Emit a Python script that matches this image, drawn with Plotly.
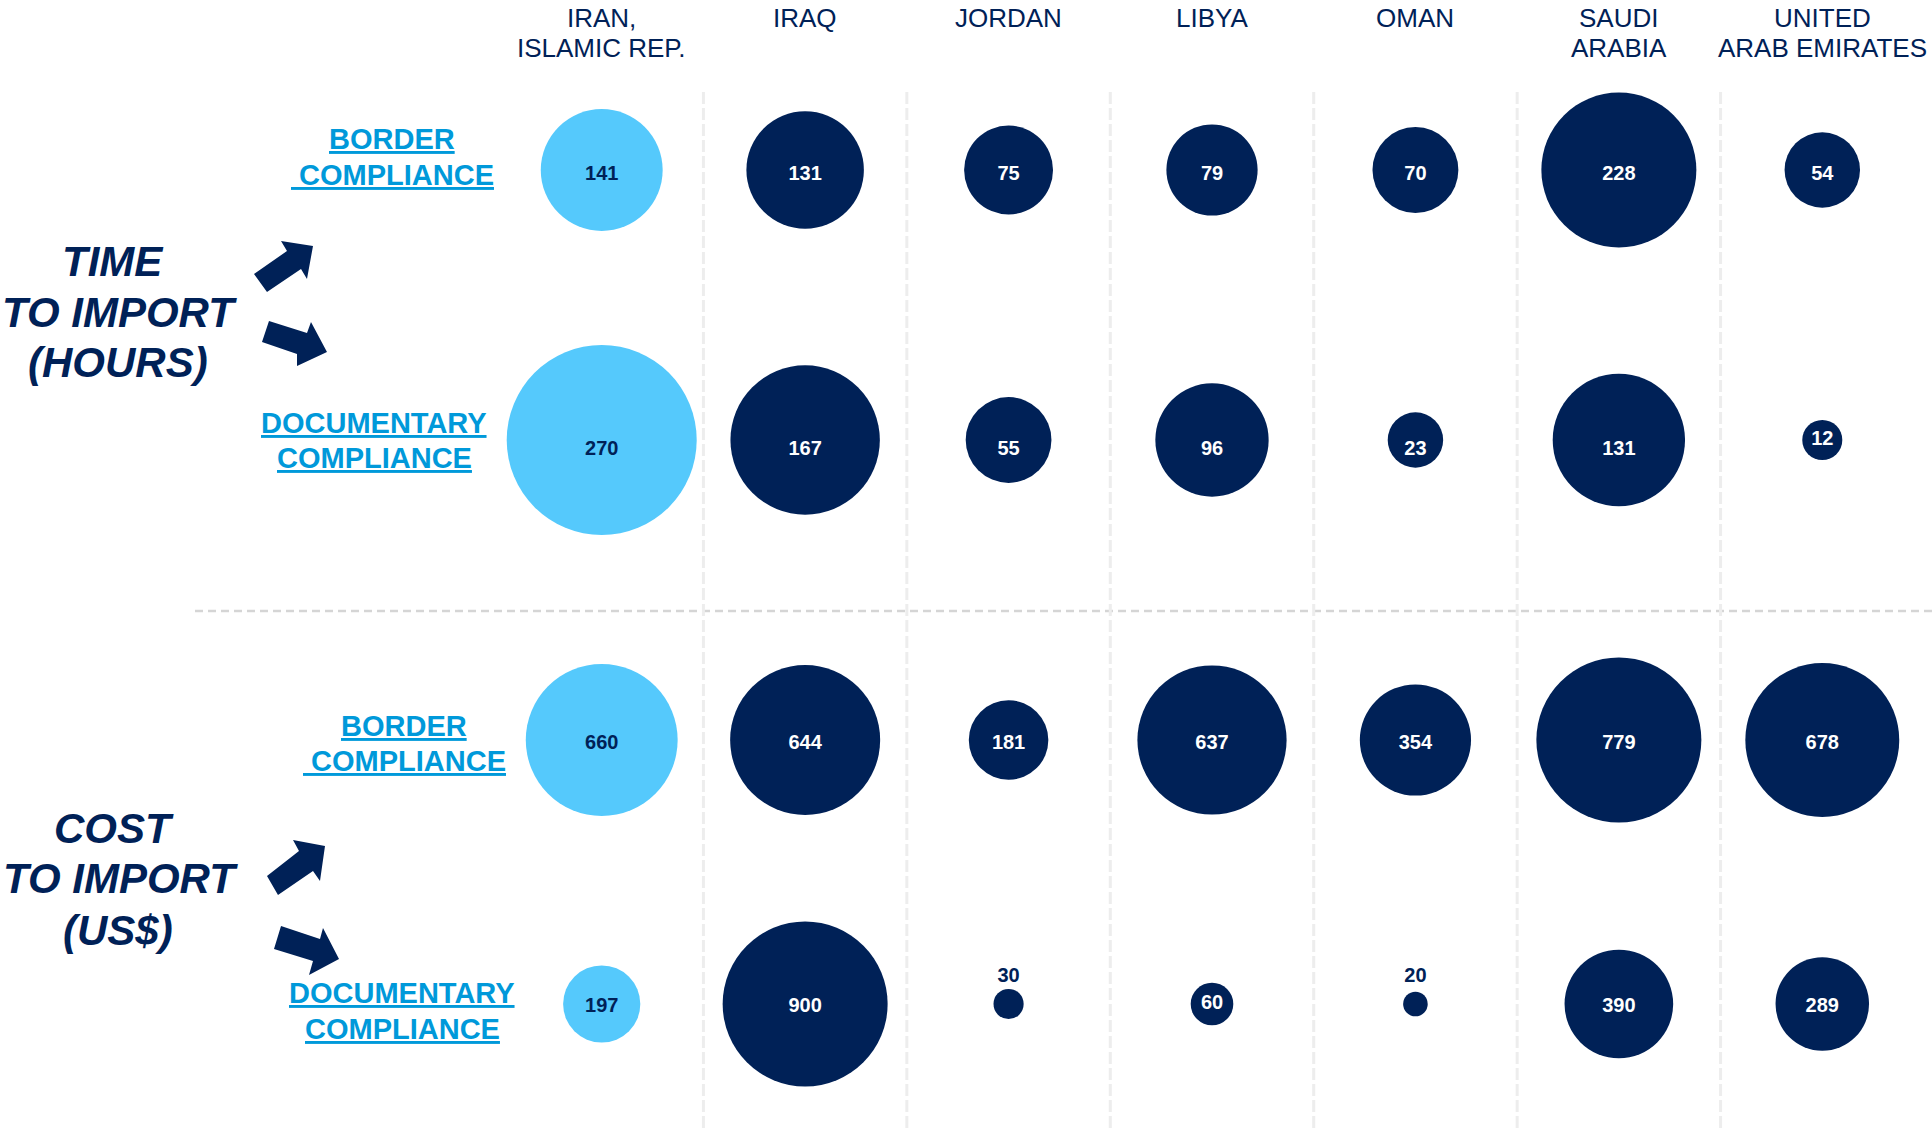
import math
import plotly.graph_objects as go

# ---- data -------------------------------------------------------------
countries = ["IRAN, ISLAMIC REP.", "IRAQ", "JORDAN", "LIBYA", "OMAN",
             "SAUDI ARABIA", "UNITED ARAB EMIRATES"]
country_headers = ["IRAN,<br>ISLAMIC REP.", "IRAQ", "JORDAN", "LIBYA", "OMAN",
                   "SAUDI<br>ARABIA", "UNITED<br>ARAB EMIRATES"]
highlight = "IRAN, ISLAMIC REP."

time_border_hours = [141, 131, 75, 79, 70, 228, 54]
time_documentary_hours = [270, 167, 55, 96, 23, 131, 12]
cost_border_usd = [660, 644, 181, 637, 354, 779, 678]
cost_documentary_usd = [197, 900, 30, 60, 20, 390, 289]

# ---- style / layout constants -----------------------------------------
W, H = 1932, 1130
NAVY = "#002157"
SKY = "#55C9FC"
LINK = "#0099DA"
GRID_V = "#EDEDED"
GRID_H = "#D5D5D5"
FONT = "Arial, 'Liberation Sans', sans-serif"

rows = [
    # values, row centre (px from top), diameter of largest bubble (px),
    # vertical nudge of the value labels (px, downwards)
    (time_border_hours, 170, 155, 5),
    (time_documentary_hours, 440, 190, 10),
    (cost_border_usd, 740, 165, 4),
    (cost_documentary_usd, 1004, 165, 3),
]
MIN_INSIDE_D = 34       # bubbles smaller than this carry their label above
MIN_NUDGE_D = 50        # labels in bubbles smaller than this stay centred
OUTSIDE_LABEL_GAP = 27  # px between a small bubble's centre and its label
HEADER_LINE_Y = [18, 48]  # centres of the first and second header lines

fig = go.Figure()

for values, row_y, d_max, nudge in rows:
    # plotly area sizing: diameter = sqrt(2 * value / sizeref)
    sizeref = 2.0 * max(values) / d_max ** 2
    diam = [math.sqrt(2.0 * v / sizeref) for v in values]
    inside = [d >= MIN_INSIDE_D for d in diam]
    fill = [SKY if c == highlight else NAVY for c in countries]
    fig.add_trace(go.Scatter(
        x=countries,
        y=[row_y] * len(countries),
        mode="markers",
        marker=dict(size=values, sizemode="area", sizeref=sizeref,
                    color=fill, line=dict(width=0), opacity=1),
        cliponaxis=False,
        hoverinfo="skip",
        showlegend=False,
    ))
    txt_col = [(NAVY if c == highlight else "white") if ins else NAVY
               for c, ins in zip(countries, inside)]
    txt_y = []
    for d, ins in zip(diam, inside):
        if not ins:
            txt_y.append(row_y - OUTSIDE_LABEL_GAP)
        elif d >= MIN_NUDGE_D:
            txt_y.append(row_y + nudge)
        else:
            txt_y.append(row_y)
    fig.add_trace(go.Scatter(
        x=countries,
        y=txt_y,
        mode="text",
        text=[str(v) for v in values],
        textposition="middle center",
        textfont=dict(family=FONT, size=20, color=txt_col, weight=700),
        cliponaxis=False,
        hoverinfo="skip",
        showlegend=False,
    ))

# ---- dividers ---------------------------------------------------------
shapes = []
for i in range(len(countries) - 1):
    shapes.append(dict(type="line", xref="x", yref="y",
                       x0=i + 0.5, x1=i + 0.5, y0=92, y1=H,
                       line=dict(color=GRID_V, width=3, dash="12px,4px"),
                       layer="below"))
shapes.append(dict(type="line", xref="paper", yref="y",
                   x0=195 / W, x1=1, y0=611, y1=611,
                   line=dict(color=GRID_H, width=2.5, dash="8px,5px"),
                   layer="below"))

# ---- block arrows (pixel outlines) -----------------------------------
arrow_outlines = [
    [(254, 274), (287, 251), (281, 241), (313, 246), (307, 279), (301, 269), (267, 292)],
    [(269, 321), (307, 333), (311, 322), (327, 352), (297, 366), (297, 354), (262, 342)],
    [(267, 876), (299, 851), (293, 840), (325, 846), (320, 881), (313, 871), (278, 895)],
    [(281, 926), (320, 939), (323, 928), (339, 959), (309, 975), (313, 961), (274, 949)],
]
for pts in arrow_outlines:
    path = "M " + " L ".join(f"{px / W:.5f},{py}" for px, py in pts) + " Z"
    shapes.append(dict(type="path", xref="paper", yref="y", path=path,
                       fillcolor=NAVY, line=dict(width=0)))

# ---- text -------------------------------------------------------------
annotations = []
for c, head in zip(countries, country_headers):
    for line_text, line_y in zip(head.split("<br>"), HEADER_LINE_Y):
        annotations.append(dict(
            x=c, xref="x", y=line_y, yref="y",
            yanchor="middle", xanchor="center",
            text=line_text, showarrow=False, align="center",
            font=dict(family=FONT, size=26, color=NAVY)))

# underlined row labels, one line each: (text, centre x, centre y)
link_lines = [
    ("BORDER", 392, 139), ("&nbsp;COMPLIANCE", 392, 175),
    ("DOCUMENTARY", 374, 423), ("COMPLIANCE", 374, 458),
    ("BORDER", 404, 726), ("&nbsp;COMPLIANCE", 404, 761),
    ("DOCUMENTARY", 402, 993), ("COMPLIANCE", 402, 1029),
]
for text, px, py in link_lines:
    annotations.append(dict(
        x=px / W, xref="paper", y=py, yref="y",
        xanchor="center", yanchor="middle", align="center",
        text=text, showarrow=False,
        font=dict(family=FONT, size=29, color=LINK, weight=700,
                  lineposition="under")))

group_lines = [
    ("TIME", 113, 261), ("TO IMPORT", 119, 312), ("(HOURS)", 118, 362),
    ("COST", 114, 828), ("TO IMPORT", 120, 878), ("(US$)", 118, 930),
]
for text, px, py in group_lines:
    annotations.append(dict(
        x=px / W, xref="paper", y=py, yref="y",
        xanchor="center", yanchor="middle", align="center",
        text=text, showarrow=False,
        font=dict(family=FONT, size=42, color=NAVY, weight=700,
                  style="italic")))

fig.update_layout(
    width=W, height=H,
    margin=dict(l=0, r=0, t=0, b=0),
    paper_bgcolor="white", plot_bgcolor="white",
    showlegend=False,
    xaxis=dict(type="category", categoryorder="array", categoryarray=countries,
               domain=[500 / W, 1924 / W], range=[-0.5, len(countries) - 0.5],
               visible=False, fixedrange=True),
    yaxis=dict(range=[H, 0], domain=[0, 1], visible=False, fixedrange=True),
    shapes=shapes,
    annotations=annotations,
)

fig.write_html("out.html")
